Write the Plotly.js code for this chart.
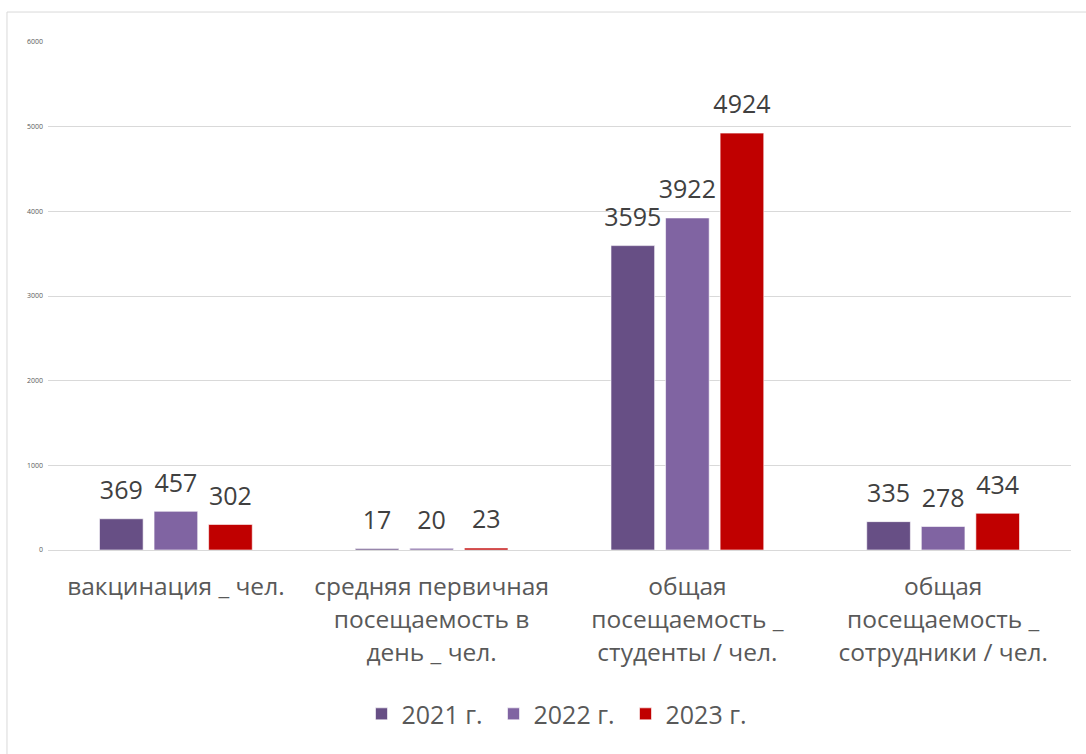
<!DOCTYPE html>
<html>
<head>
<meta charset="utf-8">
<script src="https://cdn.plot.ly/plotly-3.0.1.min.js"></script>
<style>html,body{margin:0;padding:0;background:#fff;}#chart{width:1086px;height:754px;}</style>
</head>
<body>
<div id="chart"></div>
<script>
const categories = [
  "вакцинация _ чел.",
  "средняя первичная<br>посещаемость в<br>день _ чел.",
  "общая<br>посещаемость _<br>студенты / чел.",
  "общая<br>посещаемость _<br>сотрудники / чел."
];
const seriesNames = ["2021 г.", "2022 г.", "2023 г."];
const values2021 = [369, 17, 3595, 335];
const values2022 = [457, 20, 3922, 278];
const values2023 = [302, 23, 4924, 434];
const colors = ["#674F85", "#8064A2", "#C00000"];
const yTicks = [0, 1000, 2000, 3000, 4000, 5000, 6000];

const catLabelSize = 24.5;
const tickText = categories.map(c => c.split("<br>").map(l => '<span style="font-size:' + catLabelSize + 'px">' + l + '</span>').join("<br>"));
const catIds = categories.map((c, i) => "c" + i);
const GAP = 0.36;

function barTrace(name, vals, color) {
  return {
    type: "bar",
    name: name,
    x: catIds,
    y: vals,
    marker: {color: color, line: {color: "rgba(255,255,255,0.6)", width: 1}},
    textposition: "none",
    hoverinfo: "skip"
  };
}
function labelTrace(name, vals) {
  return {
    type: "scatter",
    mode: "markers+text",
    name: name + " labels",
    showlegend: false,
    x: catIds,
    y: vals,
    marker: {size: 20, opacity: 0, color: "rgba(0,0,0,0)"},
    text: vals.map(String),
    textposition: "top center",
    textfont: {family: "Open Sans", size: 25, color: "#404040"},
    cliponaxis: false,
    hoverinfo: "skip"
  };
}

const data = [
  barTrace(seriesNames[0], values2021, colors[0]),
  barTrace(seriesNames[1], values2022, colors[1]),
  barTrace(seriesNames[2], values2023, colors[2]),
  labelTrace(seriesNames[0], values2021),
  labelTrace(seriesNames[1], values2022),
  labelTrace(seriesNames[2], values2023)
];

const layout = {
  width: 1086,
  height: 754,
  margin: {l: 48, r: 15, t: 42, b: 204},
  paper_bgcolor: "#ffffff",
  plot_bgcolor: "#ffffff",
  font: {family: "Open Sans", color: "#595959"},
  barmode: "group",
  bargap: GAP,
  bargroupgap: 0.2,
  scattermode: "group",
  scattergap: GAP,
  showlegend: true,
  legend: {
    orientation: "h",
    x: 0.5, xanchor: "center",
    y: -0.323, yanchor: "middle",
    font: {family: "Open Sans", size: 25, color: "#595959"},
    entrywidth: 87,
    traceorder: "normal"
  },
  xaxis: {
    tickmode: "array",
    tickvals: catIds,
    ticktext: tickText,
    tickfont: {family: "Open Sans", size: 25.4, color: "#595959"},
    ticklabelstandoff: 19,
    showgrid: false,
    showline: false,
    ticks: "",
    fixedrange: true
  },
  yaxis: {
    range: [0, 6000],
    tickmode: "array",
    tickvals: yTicks,
    ticktext: yTicks.map(String),
    tickfont: {family: "Open Sans", size: 7, color: "#595959"},
    ticklabelstandoff: 4,
    showgrid: true,
    gridcolor: "#d9d9d9",
    gridwidth: 1,
    zeroline: true,
    zerolinecolor: "#d9d9d9",
    zerolinewidth: 1,
    showline: false,
    ticks: "",
    fixedrange: true
  },
  shapes: [{
    type: "rect", xref: "paper", yref: "paper",
    x0: -0.0401, x1: 1.05, y0: -0.45, y1: 1.059,
    line: {color: "#d9d9d9", width: 1},
    fillcolor: "rgba(0,0,0,0)",
    layer: "below"
  }]
};

Plotly.newPlot("chart", data, layout, {displayModeBar: false, staticPlot: true});
</script>
</body>
</html>
